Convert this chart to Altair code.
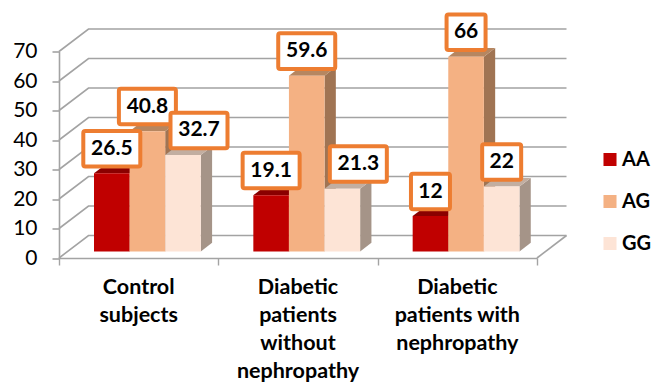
import altair as alt
import pandas as pd

# Genotype frequencies (%) per study group
categories = ["Control\nsubjects", "Diabetic\npatients\nwithout\nnephropathy", "Diabetic\npatients with\nnephropathy"]
series_names = ["AA", "AG", "GG"]
aa_values = [26.5, 19.1, 12]
ag_values = [40.8, 59.6, 66]
gg_values = [32.7, 21.3, 22]
y_ticks = [0, 10, 20, 30, 40, 50, 60, 70]

front_colors = ["#C00000", "#F4B183", "#FDE4D6"]
top_colors = ["#8A0000", "#B68660", "#C2AEA1"]
side_colors = ["#8A0000", "#A07453", "#A59488"]
line_color = "#A3A3A3"
box_color = "#ED7D31"
font = "Lato"

# Plot frame and perspective of the pseudo-3D box, in pixels
plot_w, plot_h = 478, 206.5
pad = {"left": 59, "top": 51.5, "right": 116, "bottom": 125}
px_x = 3 / plot_w          # group units per pixel
px_y = 70 / plot_h         # percentage points per pixel

wall_dx, wall_dy = 29.5 * px_x, 22.5 * px_y
bar_start = 35 * px_x
bar_w = 35.6 * px_x
bar_base = 6.5 * px_y
bar_dx, bar_dy = 11.3 * px_x, 8.7 * px_y

box_hw, box_hh = 28.5 * px_x, 17.8 * px_y
box_hw_short = 19.5 * px_x
label_rise = 24.6 * px_y
label_shift = {(0, "GG"): 16 * px_x, (1, "GG"): 16 * px_x}

series_values = dict(zip(series_names, [aa_values, ag_values, gg_values]))

x_scale = alt.Scale(domain=[0, 3], nice=False, zero=False)
y_scale = alt.Scale(domain=[0, 70], nice=False, zero=False)

# The axes sit on the front edge of the box; every layer shares them
x_axis = alt.Axis(
    values=[0, 1, 2, 3], labels=False, grid=False, tickSize=7, tickWidth=1.4,
    tickColor=line_color, domainColor=line_color, domainWidth=1.6)
y_axis = alt.Axis(
    values=y_ticks, grid=False, tickSize=7, tickWidth=1.6, tickColor=line_color,
    domainColor=line_color, domainWidth=1.6, labelFontSize=21, labelFont=font,
    labelColor="#000000", labelPadding=15)
X = alt.X("x:Q", scale=x_scale, axis=x_axis, title=None)
Y = alt.Y("y:Q", scale=y_scale, axis=y_axis, title=None)

# Gridlines running up the left wall and along the back wall
grid_rows = []
for t in y_ticks:
    grid_rows += [
        {"x": 0, "y": t, "tick": t},
        {"x": wall_dx, "y": t + wall_dy, "tick": t},
        {"x": 3 + wall_dx, "y": t + wall_dy, "tick": t},
    ]
grid_rows += [{"x": 3, "y": 0, "tick": -1}, {"x": 3 + wall_dx, "y": wall_dy, "tick": -1}]
grid = alt.Chart(pd.DataFrame(grid_rows)).mark_line(color=line_color, strokeWidth=1.6).encode(
    x=X, y=Y, detail="tick:N", order=alt.Order("x:Q")
)

layers = [grid]
label_rows = []
color_scale = alt.Scale(domain=series_names, range=front_colors)

# Bars are drawn left to right so each one covers the side of its neighbour
for s, name in enumerate(series_names):
    side_rows, top_rows, front_rows = [], [], []
    for g, value in enumerate(series_values[name]):
        left = g + bar_start + s * bar_w
        right = left + bar_w
        top = bar_base + value
        side_rows += [
            {"g": g, "x": right, "y": top, "y2": bar_base},
            {"g": g, "x": right + bar_dx, "y": top + bar_dy, "y2": bar_base + bar_dy},
        ]
        top_rows += [
            {"g": g, "y": top, "x": left, "x2": right},
            {"g": g, "y": top + bar_dy, "x": left + bar_dx, "x2": right + bar_dx},
        ]
        front_rows.append({"x": left, "x2": right, "y": top, "y2": bar_base, "series": name})

        half = box_hw if len(f"{value}") > 2 else box_hw_short
        cx = (left + right) / 2 + label_shift.get((g, name), 0)
        cy = top + label_rise
        label_rows.append({
            "text": f"{value}", "x": cx, "y": cy,
            "left": cx - half, "right": cx + half, "low": cy - box_hh, "high": cy + box_hh,
        })

    layers.append(alt.Chart(pd.DataFrame(side_rows)).mark_area(color=side_colors[s]).encode(
        x=X, y=Y, y2="y2:Q", detail="g:N"))
    layers.append(alt.Chart(pd.DataFrame(top_rows)).mark_area(color=top_colors[s], orient="horizontal").encode(
        y=Y, x=X, x2="x2:Q", detail="g:N"))
    layers.append(alt.Chart(pd.DataFrame(front_rows)).mark_rect().encode(
        x=X, x2="x2:Q", y=Y, y2="y2:Q",
        color=alt.Color("series:N", scale=color_scale, legend=alt.Legend(
            title=None, orient="none", legendX=541, legendY=98, symbolType="square",
            symbolSize=170, symbolStrokeWidth=0, labelFontSize=20, labelFont=font,
            labelFontWeight="bold", labelColor="#000000", rowPadding=22, labelOffset=2)),
    ))

labels = pd.DataFrame(label_rows)
boxes = alt.Chart(labels).mark_rect(
    fill="white", stroke=box_color, strokeWidth=4, cornerRadius=2
).encode(
    x=alt.X("left:Q", scale=x_scale, axis=x_axis, title=None), x2="right:Q",
    y=alt.Y("low:Q", scale=y_scale, axis=y_axis, title=None), y2="high:Q",
)
label_text = alt.Chart(labels).mark_text(
    font=font, fontSize=21, fontWeight="bold", color="#000000", baseline="middle", align="center"
).encode(x=X, y=Y, text="text:N")

# Multi-line group names below the floor of the box
cat_frame = pd.DataFrame({
    "x": [i + 0.5 for i in range(3)],
    "y": [-18.5 * px_y] * 3,
    "text": categories,
})
cat_text = alt.Chart(cat_frame).mark_text(
    font=font, fontSize=21.5, fontWeight="bold", color="#000000", baseline="top", align="center",
    lineBreak="\n", lineHeight=28.3
).encode(x=X, y=Y, text="text:N")

chart = alt.layer(*layers, boxes, label_text, cat_text).properties(
    width=plot_w, height=plot_h, padding=pad, autosize=alt.AutoSizeParams(type="none"),
    background="white"
).configure_view(stroke=None)

chart.save("out.html", embed_options={"renderer": "svg", "actions": False})
